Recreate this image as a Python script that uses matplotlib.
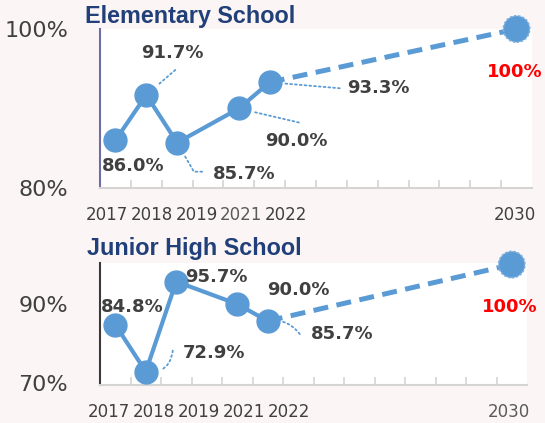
import matplotlib.pyplot as plt

years = [2017, 2018, 2019, 2021, 2022]
elementary = [86.0, 91.7, 85.7, 90.0, 93.3]
junior_high = [84.8, 72.9, 95.7, 90.0, 85.7]
target_year = 2030
target_value = 100
year_labels = ['2017', '2018', '2019', '2021', '2022', '2030']

BLUE = '#5b9bd5'
TEXT = '#404040'
NAVY = '#213f78'
BG = '#fcf5f5'

W, H = 545, 423
fig = plt.figure(figsize=(W / 100, H / 100), dpi=100, facecolor=BG)


def px_box(left, top, right, bottom):
    return [left / W, 1 - bottom / H, (right - left) / W, (bottom - top) / H]


def draw_panel(ax, values, ylim, yticks, left_color, offsets, leaders):
    ax.set_facecolor('white')
    ax.plot(years, values, color=BLUE, lw=3, marker='o', ms=16.5, zorder=3)
    ax.plot([years[-1], target_year], [values[-1], target_value], color=BLUE,
            lw=3.6, dashes=(3, 1.7), zorder=2)
    ax.scatter([target_year], [target_value], s=19 ** 2, color=BLUE,
               edgecolor='#7fb0de', linewidths=1.2, linestyle=(0, (1.5, 1)),
               zorder=4, clip_on=False)

    # leader lines
    for i, (dx, dy, cs) in leaders.items():
        ax.annotate('', xy=(years[i], values[i]), xytext=(dx, dy),
                    textcoords='offset pixels',
                    arrowprops=dict(arrowstyle='-', color=BLUE, lw=1.3,
                                    linestyle=':', shrinkA=0, shrinkB=11,
                                    connectionstyle=cs))
    # data labels
    for i, v in enumerate(values):
        ax.annotate(f'{v:.1f}%', (years[i], v), xytext=offsets[i],
                    textcoords='offset pixels', ha='center', va='center',
                    fontsize=13, fontweight='bold', color=TEXT, zorder=5)
    ax.annotate(f'{target_value}%', (target_year, target_value), xytext=offsets[-1],
                textcoords='offset pixels', ha='center', va='center',
                fontsize=13, fontweight='bold', color='red')

    ax.set_xlim(2016.5, 2030.5)
    ax.set_ylim(*ylim)
    ax.set_xticks([y + 0.5 for y in range(2016, 2030)])
    ax.set_xticklabels([])
    ax.tick_params(axis='x', direction='in', length=6, color='#d4d4d4', width=1.2)
    ax.set_yticks(yticks)
    ax.set_yticklabels([f'{t}%' for t in yticks], fontsize=16, color=TEXT)
    ax.tick_params(axis='y', length=0, pad=23)
    for s in ['top', 'right']:
        ax.spines[s].set_visible(False)
    ax.spines['bottom'].set_color('#d4d4d4')
    ax.spines['bottom'].set_linewidth(1.5)
    ax.spines['left'].set_color(left_color)
    ax.spines['left'].set_linewidth(1.5)


ax1 = fig.add_axes(px_box(100, 29, 532, 188))
draw_panel(ax1, elementary, (80, 100), [80, 100], '#6e6ea6',
           offsets=[(18, -26), (26, 42), (67, -31), (58, -33), (109, -6), (-2, -43)],
           leaders={1: (29, 25, 'arc3,rad=0'),
                    2: (25, -29, 'angle,angleA=0,angleB=-60,rad=0'),
                    3: (60, -14, 'arc3,rad=0'), 4: (70, -6, 'arc3,rad=0')})

ax2 = fig.add_axes(px_box(100, 263, 527, 385))
draw_panel(ax2, junior_high, (69.5, 100.4), [70, 90], '#3a3a3a',
           offsets=[(17, 18), (68, 19), (40, 5), (61, 14), (74, -13), (-2, -42)],
           leaders={1: (27, 21, 'arc3,rad=-0.5'), 4: (32, -13, 'arc3,rad=0.3')})

fig.text(85 / W, 1 - 23 / H, 'Elementary School', fontsize=16.8, fontweight='bold',
         color=NAVY, family='Liberation Sans', va='baseline')
fig.text(87 / W, 1 - 255 / H, 'Junior High School', fontsize=16.8, fontweight='bold',
         color=NAVY, family='Liberation Sans', va='baseline')

top_x = [107, 152, 197, 241, 286, 515]
bottom_x = [109, 154, 199, 244, 289, 509]
for lab, x in zip(year_labels, top_x):
    fig.text(x / W, 1 - 215 / H, lab, fontsize=12, color='#5a5a5a' if lab == '2021' else TEXT,
             ha='center', va='center')
for lab, x in zip(year_labels, bottom_x):
    fig.text(x / W, 1 - 412 / H, lab, fontsize=12,
             color='#5a5a5a' if lab == '2030' else TEXT, ha='center', va='center')

plt.savefig('out.png', dpi=100, facecolor=BG)
